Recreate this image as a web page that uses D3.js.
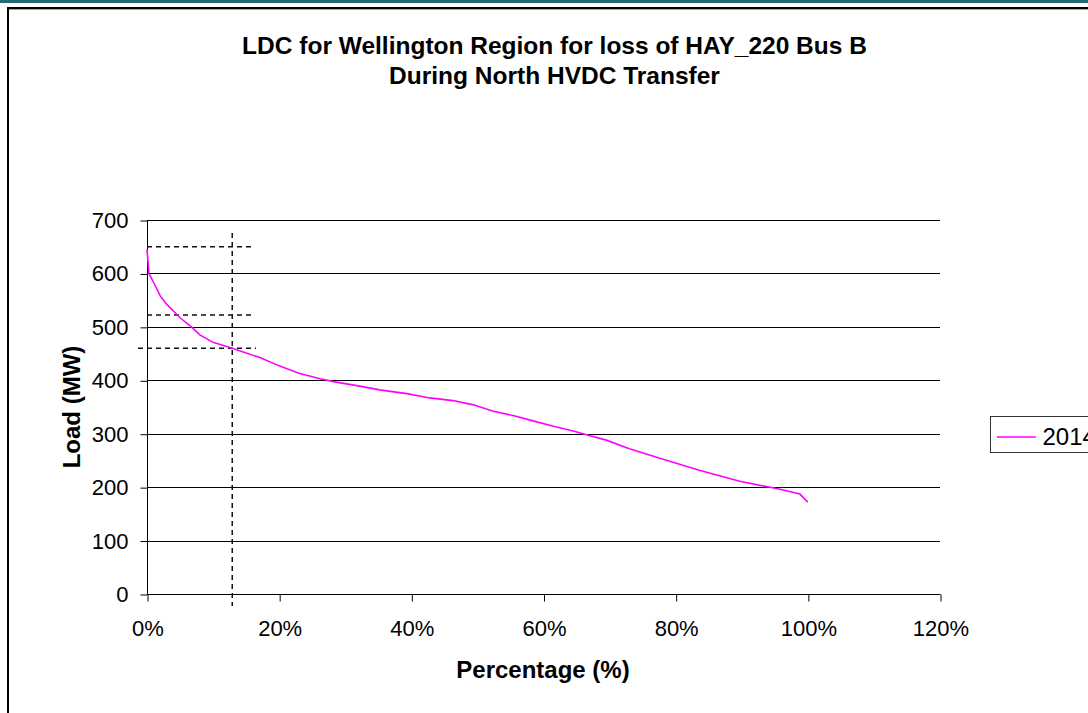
<!DOCTYPE html>
<html><head><meta charset="utf-8">
<script src="https://cdn.jsdelivr.net/npm/d3@7/dist/d3.min.js"></script>
<style>
html,body{margin:0;padding:0;background:#fff;overflow:hidden;}
text{font-family:"Liberation Sans",Arial,sans-serif;}
</style></head>
<body>
<svg id="chart" width="1088" height="713"></svg>
<script>
const titleLines = ["LDC for Wellington Region for loss of HAY_220 Bus B", "During North HVDC Transfer"];
const xLabel = "Percentage (%)";
const yLabel = "Load (MW)";
const seriesName = "2014";
const xTicks = [0, 20, 40, 60, 80, 100, 120];
const yTicks = [0, 100, 200, 300, 400, 500, 600, 700];
const pct = [0, 0.3, 1, 2, 3, 5, 6.8, 8, 10, 12.9, 15, 17, 20, 23, 26.2, 28.4, 32.2, 35.2, 39.3, 42.8, 46.3, 49.4, 52.4, 55.4, 58.4, 61.5, 64.5, 66.5, 69.5, 73, 77.6, 83.7, 89.7, 95.8, 98.8, 100];
const load = [645, 600, 583, 558, 542, 517, 499, 485, 471, 460, 451, 443, 427, 413, 403, 397, 389, 382, 375, 367, 362, 354, 342, 334, 324, 314, 305, 298, 288, 272, 254, 231, 211, 196, 187, 172];
const refLoads = [650, 522, 460];
const refPct = 12.9;

const svg = d3.select("#chart");
// outer decorations
svg.append("rect").attr("x",0).attr("y",0).attr("width",1088).attr("height",3).attr("fill","#226a78");
svg.append("line").attr("x1",7.5).attr("x2",1088).attr("y1",8).attr("y2",8).attr("stroke","#000").attr("stroke-width",2);
svg.append("line").attr("x1",8).attr("x2",8).attr("y1",7).attr("y2",713).attr("stroke","#000").attr("stroke-width",2);
svg.append("line").attr("x1",9).attr("x2",1088).attr("y1",9.5).attr("y2",9.5).attr("stroke","#aaa").attr("stroke-width",1);

const x = d3.scaleLinear().domain([0,120]).range([147,940]);
const y = d3.scaleLinear().domain([0,700]).range([594,220]);

// gridlines
svg.append("g").selectAll("line").data(yTicks.filter(d=>d>0)).join("line")
  .attr("x1",147).attr("x2",940)
  .attr("y1",d=>Math.round(y(d))+0.5).attr("y2",d=>Math.round(y(d))+0.5)
  .attr("stroke","#000").attr("stroke-width",1);

// axes
const tickFont = "22px";
const yAxis = d3.axisLeft(y).tickValues(yTicks).tickSize(7).tickPadding(12).tickFormat(d3.format("d"));
const gy = svg.append("g").attr("transform","translate(147.5,0.5)").call(yAxis);
const xAxis = d3.axisBottom(x).tickValues(xTicks).tickSize(7).tickPadding(19).tickFormat(d=>d+"%");
const gx = svg.append("g").attr("transform","translate(0.5,594.5)").call(xAxis);
[gx,gy].forEach(g=>{
  g.attr("font-size",null).attr("font-family",null);
  g.select(".domain").attr("stroke","#000");
  g.selectAll(".tick line").attr("stroke","#000");
  g.selectAll(".tick text").attr("fill","#000").style("font-size",tickFont);
});
gx.select(".domain").attr("d","M147,0H940");
gy.select(".domain").attr("d","M0,594V220");

// reference dashed lines
const dash = "5,4";
const dashAttrs = sel => sel.attr("stroke","#111").attr("stroke-width",1.5).attr("stroke-dasharray",dash);
svg.append("line").attr("x1",147).attr("x2",252).attr("y1",y(refLoads[0])).attr("y2",y(refLoads[0])).call(dashAttrs);
svg.append("line").attr("x1",147).attr("x2",252).attr("y1",y(refLoads[1])).attr("y2",y(refLoads[1])).call(dashAttrs);
svg.append("line").attr("x1",138).attr("x2",256).attr("y1",y(refLoads[2])).attr("y2",y(refLoads[2])).call(dashAttrs);
svg.append("line").attr("x1",x(refPct)).attr("x2",x(refPct)).attr("y1",233).attr("y2",606).call(dashAttrs);

// series
const data = pct.map((p,i)=>({p, v:load[i]}));
svg.append("path").datum(data)
  .attr("d", d3.line().x(d=>x(d.p)).y(d=>y(d.v)))
  .attr("fill","none").attr("stroke","#ff00ff").attr("stroke-width",1.6);

// title
svg.append("g").selectAll("text").data(titleLines).join("text")
  .attr("x",554.5).attr("y",(d,i)=>i===0?54:84).attr("text-anchor","middle")
  .style("font-size","24.5px").style("font-weight","bold").text(d=>d);

// axis titles
svg.append("text").attr("x",543).attr("y",678).attr("text-anchor","middle")
  .style("font-size","24px").style("font-weight","bold").text(xLabel);
svg.append("text").attr("transform","translate(80,407) rotate(-90)").attr("text-anchor","middle")
  .style("font-size","24px").style("font-weight","bold").text(yLabel);

// legend
svg.append("rect").attr("x",990.5).attr("y",416.5).attr("width",110).attr("height",36).attr("fill","#fff").attr("stroke","#333");
svg.append("line").attr("x1",997).attr("x2",1036).attr("y1",437).attr("y2",437).attr("stroke","#ff00ff").attr("stroke-width",1.6);
svg.append("text").attr("x",1042.5).attr("y",445).style("font-size","24px").text(seriesName);
</script>
</body></html>
